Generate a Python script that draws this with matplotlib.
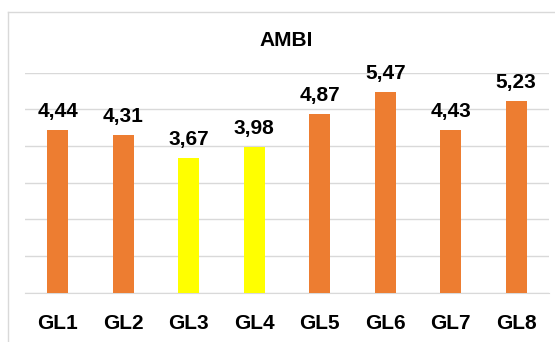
import matplotlib.pyplot as plt
from matplotlib.lines import Line2D

# AMBI index per station
stations = ["GL1", "GL2", "GL3", "GL4", "GL5", "GL6", "GL7", "GL8"]
ambi = [4.44, 4.31, 3.67, 3.98, 4.87, 5.47, 4.43, 5.23]
bar_colors = ["#ED7D31", "#ED7D31", "#FFFF00", "#FFFF00",
              "#ED7D31", "#ED7D31", "#ED7D31", "#ED7D31"]

plt.rcParams['font.family'] = ['Liberation Sans', 'DejaVu Sans']

fig = plt.figure(figsize=(5.55, 3.42), dpi=100)
ax = fig.add_axes([25 / 555, 1 - 292.7 / 342, 524 / 555, 220 / 342])

x = range(len(stations))
bars = ax.bar(x, ambi, width=0.32, color=bar_colors, zorder=3)

for b, v in zip(bars, ambi):
    ax.annotate(f"{v:.2f}".replace(".", ","),
                xy=(b.get_x() + b.get_width() / 2, v),
                xytext=(0, 9), textcoords="offset pixels",
                ha="center", va="bottom", fontsize=15, fontweight="bold")

ax.set_xlim(-0.5, len(stations) - 0.5)
ax.set_ylim(0, 6)
ax.set_yticks(range(0, 7))
ax.set_yticklabels([])
ax.tick_params(axis="y", length=0)
ax.tick_params(axis="x", length=0, pad=15)
ax.set_xticks(list(x))
ax.set_xticklabels(stations, fontsize=15, fontweight="bold")
ax.grid(axis="y", color="#D9D9D9", linewidth=1, zorder=0)
ax.set_axisbelow(True)
for s in ["top", "right", "left"]:
    ax.spines[s].set_visible(False)
ax.spines["bottom"].set_color("#D9D9D9")
ax.spines["bottom"].set_zorder(0)

fig.text(286 / 555, 1 - 40.5 / 342, "AMBI", ha="center", va="center",
         fontsize=15, fontweight="bold")

# chart frame
fig.add_artist(Line2D([7.5 / 555, 7.5 / 555], [0, 1 - 12 / 342],
                      color="#D9D9D9", linewidth=1, transform=fig.transFigure))
fig.add_artist(Line2D([7.5 / 555, 1], [1 - 12 / 342, 1 - 12 / 342],
                      color="#D9D9D9", linewidth=1, transform=fig.transFigure))

fig.savefig("out.png", dpi=100)
